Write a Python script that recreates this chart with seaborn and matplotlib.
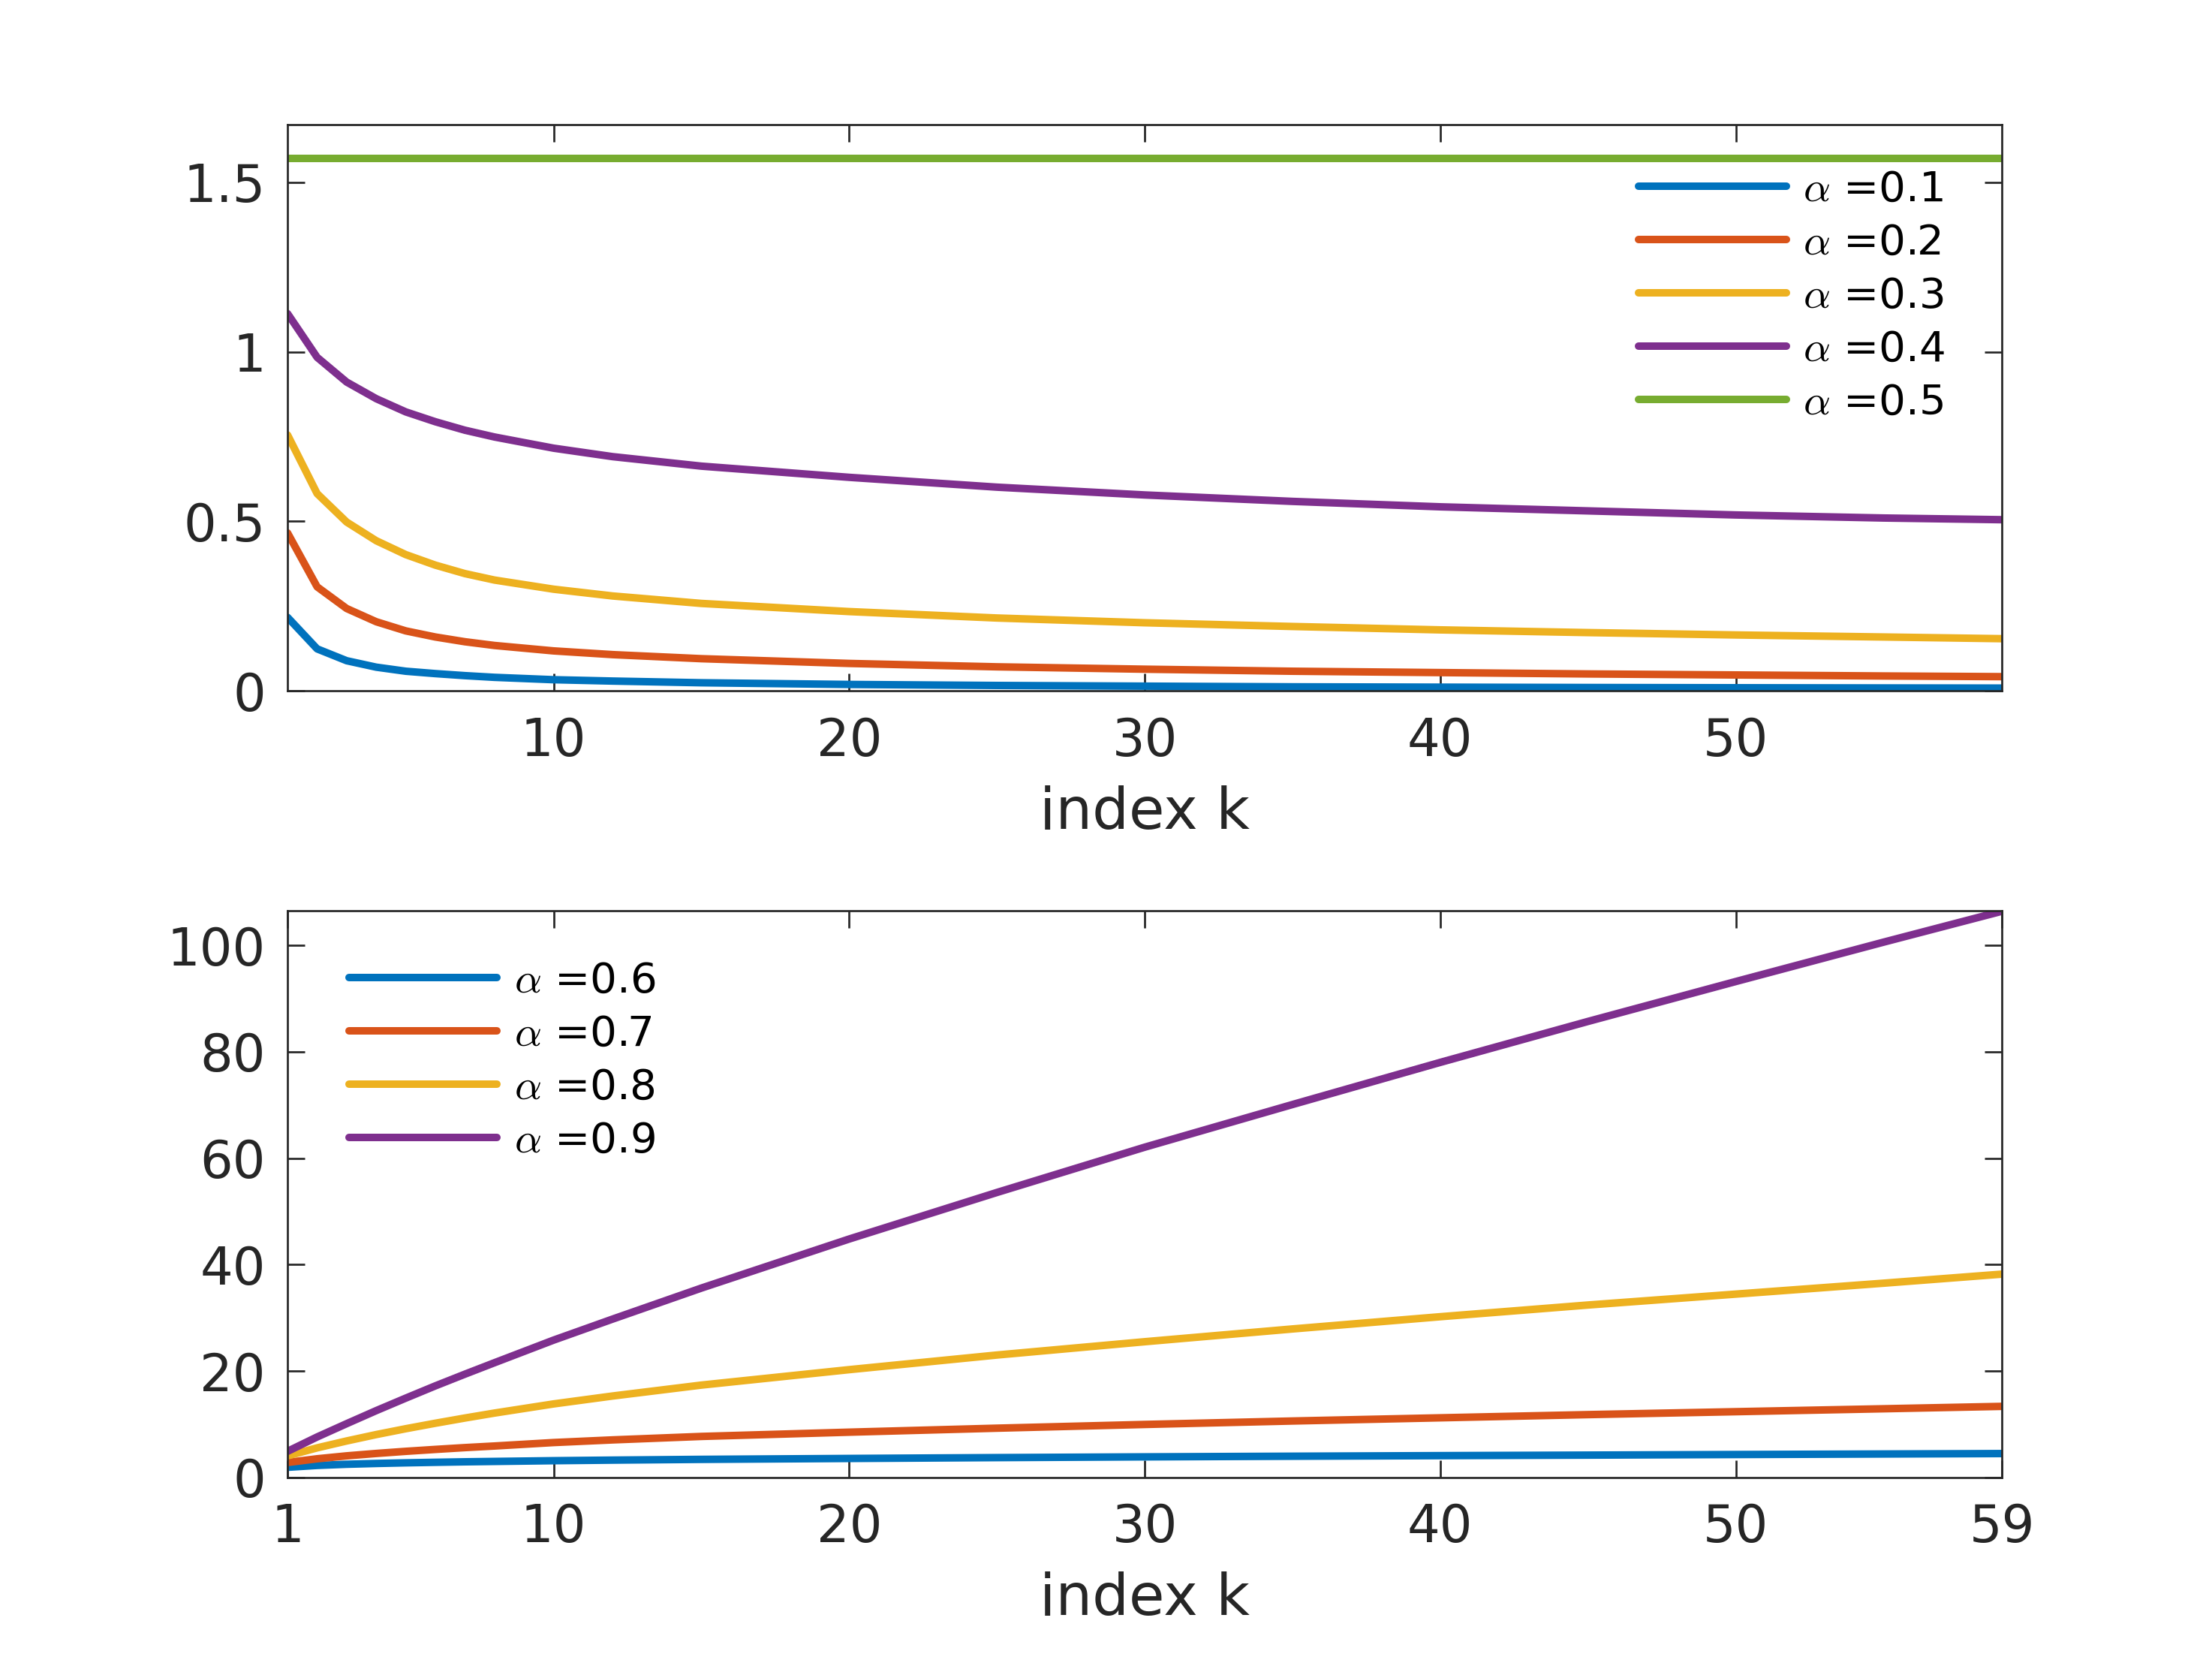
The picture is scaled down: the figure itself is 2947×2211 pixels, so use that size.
import matplotlib
matplotlib.use('Agg')
import matplotlib.pyplot as plt
import seaborn as sns

k_vals = [1, 2, 3, 4, 5, 6, 7, 8, 10, 12, 15, 20, 25, 30, 35, 40, 45, 50, 55, 59]

# top panel, alpha = 0.1 ... 0.5
top_a01 = [0.217, 0.124, 0.089, 0.070, 0.058, 0.051, 0.045, 0.040, 0.033, 0.029,
           0.024, 0.019, 0.016, 0.014, 0.012, 0.011, 0.010, 0.0093, 0.0087, 0.0083]
top_a02 = [0.466, 0.307, 0.243, 0.204, 0.177, 0.159, 0.145, 0.134, 0.118, 0.107,
           0.095, 0.081, 0.071, 0.064, 0.058, 0.054, 0.050, 0.047, 0.044, 0.042]
top_a03 = [0.755, 0.582, 0.498, 0.443, 0.402, 0.371, 0.346, 0.327, 0.300, 0.280,
           0.258, 0.234, 0.215, 0.201, 0.190, 0.180, 0.172, 0.165, 0.159, 0.154]
top_a04 = [1.113, 0.984, 0.911, 0.862, 0.823, 0.794, 0.769, 0.749, 0.716, 0.691,
           0.663, 0.630, 0.601, 0.578, 0.559, 0.543, 0.531, 0.519, 0.510, 0.505]
top_a05 = [1.5708] * 20

# bottom panel, alpha = 0.6 ... 0.9
bot_a06 = [1.90, 2.25, 2.47, 2.62, 2.74, 2.84, 2.93, 3.00, 3.14, 3.25,
           3.39, 3.56, 3.72, 3.86, 3.98, 4.09, 4.19, 4.30, 4.40, 4.48]
bot_a07 = [2.80, 3.50, 4.05, 4.50, 4.90, 5.26, 5.60, 5.90, 6.55, 7.05,
           7.70, 8.50, 9.25, 9.95, 10.60, 11.20, 11.80, 12.35, 12.90, 13.35]
bot_a08 = [4.05, 5.55, 6.85, 8.05, 9.15, 10.18, 11.16, 12.09, 13.81, 15.30,
           17.35, 20.25, 23.00, 25.50, 27.90, 30.20, 32.40, 34.45, 36.50, 38.20]
bot_a09 = [4.90, 7.60, 10.10, 12.55, 14.90, 17.20, 19.40, 21.55, 25.80, 29.76,
           35.58, 44.80, 53.55, 62.06, 70.08, 78.00, 85.70, 93.20, 100.60, 106.40]

top_labels = [r'$\alpha$ =0.1', r'$\alpha$ =0.2', r'$\alpha$ =0.3', r'$\alpha$ =0.4', r'$\alpha$ =0.5']
bot_labels = [r'$\alpha$ =0.6', r'$\alpha$ =0.7', r'$\alpha$ =0.8', r'$\alpha$ =0.9']

colors = ['#0072BD', '#D95319', '#EDB120', '#7E2F8E', '#77AC30']
dark = '#262626'

sns.set_theme(style='white')
plt.rcParams['font.family'] = ['DejaVu Sans']
plt.rcParams['mathtext.fontset'] = 'cm'

fig = plt.figure(figsize=(2947 / 300, 2211 / 300), dpi=300)
ax1 = fig.add_axes([0.13, 0.5838, 0.775, 0.3412])
ax2 = fig.add_axes([0.13, 0.11, 0.775, 0.3412])

for vals, lab, c in zip([top_a01, top_a02, top_a03, top_a04, top_a05], top_labels, colors):
    sns.lineplot(x=k_vals, y=vals, ax=ax1, color=c, linewidth=2.4, label=lab)

for vals, lab, c in zip([bot_a06, bot_a07, bot_a08, bot_a09], bot_labels, colors):
    sns.lineplot(x=k_vals, y=vals, ax=ax2, color=c, linewidth=2.4, label=lab)


def style(ax):
    for s in ax.spines.values():
        s.set_visible(True)
        s.set_color(dark)
        s.set_linewidth(0.65)
    ax.tick_params(direction='in', length=5.5, width=0.65, color=dark,
                   labelcolor=dark, labelsize=16.5,
                   bottom=True, left=True, top=True, right=True)
    ax.tick_params(axis='x', pad=8)
    ax.tick_params(axis='y', pad=7)
    ax.set_xlabel('index k', fontsize=18.5, color=dark, labelpad=6)
    ax.set_ylabel('')
    ax.set_xlim(1, 59)
    ax.grid(False)


legend_kw = dict(frameon=False, fontsize=13.5, handlelength=3.5, handletextpad=0.4,
                 labelspacing=0.3, borderpad=0, borderaxespad=0, labelcolor='black')

style(ax1)
ax1.set_ylim(0, 1.6708)
ax1.set_yticks([0, 0.5, 1, 1.5])
ax1.set_yticklabels(['0', '0.5', '1', '1.5'])
ax1.set_xticks([10, 20, 30, 40, 50])
ax1.legend(loc='upper right', bbox_to_anchor=(0.967, 0.92), **legend_kw)

style(ax2)
ax2.set_ylim(0, 106.45)
ax2.set_yticks([0, 20, 40, 60, 80, 100])
ax2.set_xticks([1, 10, 20, 30, 40, 50, 59])
ax2.legend(loc='upper left', bbox_to_anchor=(0.036, 0.912), **legend_kw)

fig.savefig('out.png', dpi=300)
plt.close(fig)
